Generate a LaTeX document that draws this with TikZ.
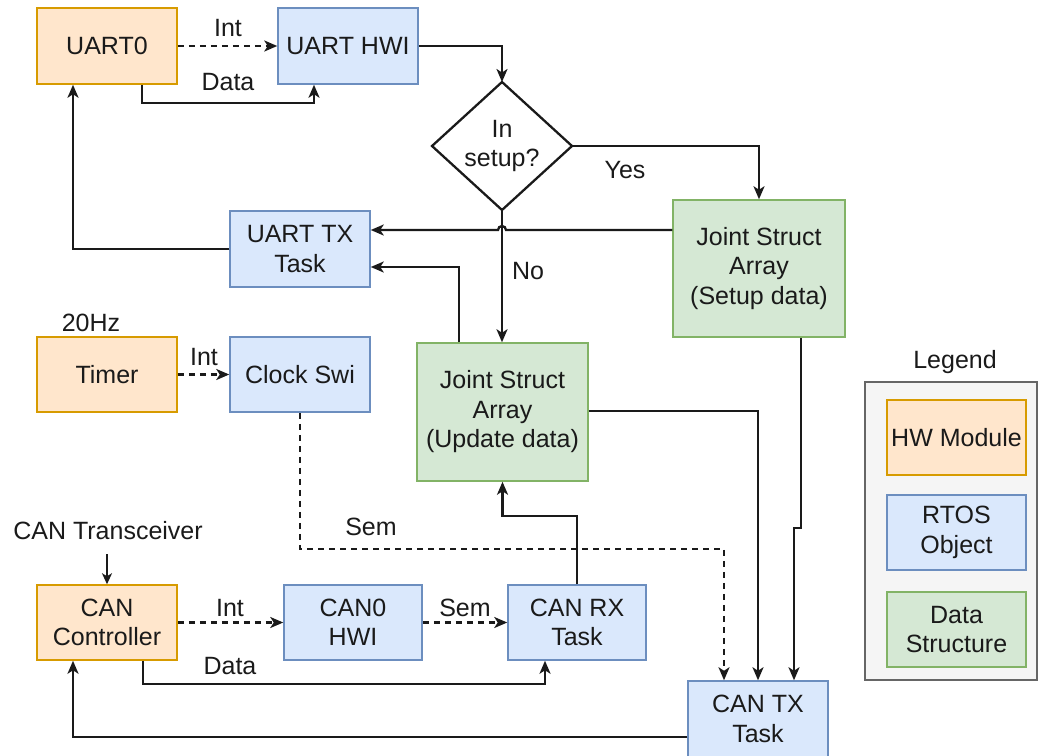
\documentclass[tikz,border=0pt]{standalone}
\usepackage{fontspec}
\setmainfont{Liberation Sans}
\usetikzlibrary{arrows.meta}
\definecolor{hwfill}{HTML}{FFE6CC}
\definecolor{hwdraw}{HTML}{D79B00}
\definecolor{osfill}{HTML}{DAE8FC}
\definecolor{osdraw}{HTML}{6C8EBF}
\definecolor{dsfill}{HTML}{D5E8D4}
\definecolor{dsdraw}{HTML}{82B366}
\definecolor{lgfill}{HTML}{F5F5F5}
\definecolor{lgdraw}{HTML}{666666}
\definecolor{ink}{HTML}{1A1A1A}
\begin{document}
\begin{tikzpicture}[x=1pt,y=-1pt,
  every node/.style={font=\fontsize{25}{29.5}\selectfont, text=ink, inner sep=0pt, align=center},
  box/.style={rectangle, draw, line width=1.5pt, minimum width=140pt, minimum height=76pt},
  hw/.style={box, fill=hwfill, draw=hwdraw},
  os/.style={box, fill=osfill, draw=osdraw},
  ds/.style={box, fill=dsfill, draw=dsdraw},
  flow/.style={draw=ink, line width=2.3pt, -{Stealth[length=13pt,width=11pt,inset=3.5pt]}},
  dflow/.style={flow, dash pattern=on 6pt off 5pt},
  thinflow/.style={draw=ink, line width=1.7pt, -{Stealth[length=11pt,width=10pt,inset=3pt]}}]
\useasboundingbox (0,0) rectangle (1038,755);

% boxes
\node[hw] (uart0) at (107,46) {UART0};
\node[os] (uarthwi) at (348,46) {UART HWI};
\node[ds, minimum width=172pt, minimum height=137pt] (setup) at (759,268.5) {Joint Struct\\Array\\(Setup data)};
\node[os] (uarttx) at (300,249) {UART TX\\Task};
\node[hw, minimum height=75pt] (timer) at (107,374.5) {Timer};
\node[os, minimum height=75pt] (clock) at (300,374.5) {Clock Swi};
\node[ds, minimum width=171pt, minimum height=138pt] (update) at (502.5,412) {Joint Struct\\Array\\(Update data)};
\node[hw, minimum height=75pt] (canctl) at (107,622.5) {CAN\\Controller};
\node[os, minimum width=138pt, minimum height=75pt] (can0) at (353,622.5) {CAN0\\HWI};
\node[os, minimum width=138pt, minimum height=75pt] (canrx) at (577,622.5) {CAN RX\\Task};
\node[os] (cantx) at (758,719) {CAN TX\\Task};

% diamond
\coordinate (diaT) at (502,82);
\coordinate (diaB) at (502,210);
\coordinate (diaL) at (432,146);
\coordinate (diaR) at (572,146);
\draw[draw=ink, line width=2.3pt, line join=miter] (diaL) -- (diaT) -- (diaR) -- (diaB) -- cycle;
\node (dia) at (502,146) {In\\setup?};

% legend
\node[draw=lgdraw, fill=lgfill, line width=1.5pt, minimum width=172pt, minimum height=298pt] (legbox) at (951,531) {};
\node (legt) at (955,362) {Legend};
\node[hw, minimum width=139pt, minimum height=75pt] (lhw) at (956.5,437.5) {HW Module};
\node[os, minimum width=139pt, minimum height=75pt] (los) at (956.5,532.5) {RTOS\\Object};
\node[ds, minimum width=139pt, minimum height=75pt] (lds) at (956.5,629.5) {Data\\Structure};

% connectors top
\draw[dflow] (uart0.east) -- (uarthwi.west);
\node (lint1) at (228,28) {Int};
\draw[flow] ([xshift=35pt]uart0.south) -- ++(0,18) -| ([xshift=-34pt]uarthwi.south);
\node (ldata1) at (228,82) {Data};
\draw[flow] (uarthwi.east) -| (diaT);
\draw[flow] (diaR) -| (setup.north);
\node (lyes) at (625,170) {Yes};
\draw[flow] (diaB) -- (diaB |- update.north);
\node (lno) at (528,271) {No};
\draw[flow] ([yshift=38.5pt]setup.west) -- (506,230) arc[start angle=0,end angle=180,radius=4pt] -- ([yshift=19pt]uarttx.east);
\draw[flow] ([xshift=-43.5pt]update.north) |- ([yshift=-18pt]uarttx.east);
\draw[flow] (uarttx.west) -| ([xshift=-34pt]uart0.south);

% timer
\node (l20) at (91,323) {20Hz};
\draw[dflow] (timer.east) -- (clock.west);
\node (lint2) at (204,357) {Int};
\draw[dflow] (clock.south) -- ++(0,136) -| ([xshift=-34pt]cantx.north);
\node (lsem1) at (371,527) {Sem};
\draw[flow] ([yshift=1pt]update.east) -| (cantx.north);
\draw[flow] ([xshift=42pt]setup.south) -- ++(0,190) -| ([xshift=36pt]cantx.north);
\draw[flow] (canrx.north) -- ++(0,-68) -| (update.south);

% CAN
\coordinate (trx) at (107,554);
\node (ltrx) at (108,531) {CAN Transceiver};
\draw[thinflow] (trx) -- (canctl.north);
\draw[dflow] (canctl.east) -- (can0.west);
\node (lint3) at (230,608) {Int};
\draw[dflow] (can0.east) -- (canrx.west);
\node (lsem2) at (465,608) {Sem};
\draw[flow] ([xshift=36pt]canctl.south) -- ++(0,23) -| ([xshift=-32pt]canrx.south);
\node (ldata2) at (230,666) {Data};
\draw[flow] ([yshift=-18pt]cantx.west) -| ([xshift=-34pt]canctl.south);
\end{tikzpicture}
\end{document}
